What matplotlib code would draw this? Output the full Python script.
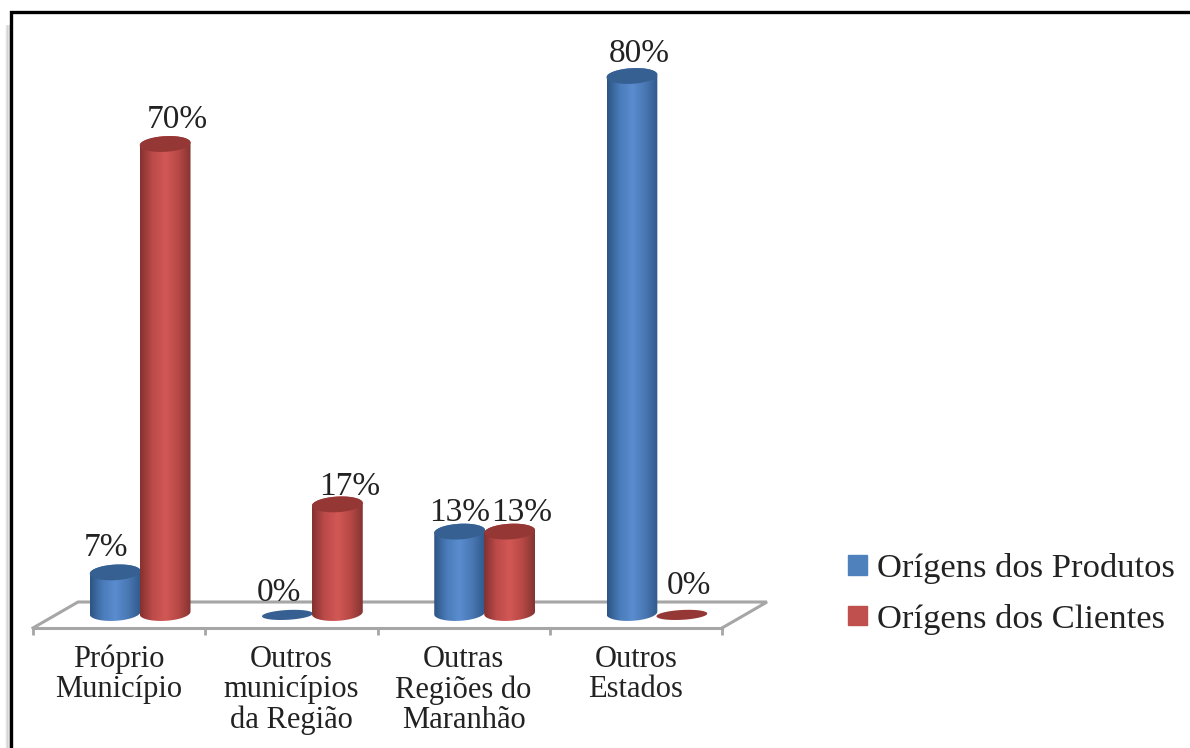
import numpy as np
import matplotlib
matplotlib.use('Agg')
import matplotlib.pyplot as plt
from matplotlib.colors import LinearSegmentedColormap
from matplotlib.lines import Line2D
from matplotlib.patches import Patch, Polygon

categories = ['Próprio\nMunicípio', 'Outros\nmunicípios\nda Região',
              'Outras\nRegiões do\nMaranhão', 'Outros\nEstados']
produtos = [7, 0, 13, 80]
clientes = [70, 17, 13, 0]
series_names = ['Orígens dos Produtos', 'Orígens dos Clientes']

plt.rcParams['font.family'] = ['Liberation Serif', 'DejaVu Serif']

W, H = 1190, 748
px_y = 6.8       # pixels per percent
px_x = 172.25    # pixels per category
bar_w = 0.295
cap_h = 1.15
tilt = 0.2
base = 1.03
flat_base = 0.75

blue = LinearSegmentedColormap.from_list('b', ['#2c5482', '#4a7cba', '#5a8cd0', '#4a78b4', '#2f5a8c'])
red = LinearSegmentedColormap.from_list('r', ['#843130', '#bd4b49', '#d25855', '#b84946', '#843432'])


def ellipse_xy(cx, cy, hw, hh, t):
    return cx + hw * np.cos(t), cy + hh * np.sin(t) + tilt * np.cos(t)


def cylinder(ax, cx, val, cmap, cap_col, z):
    hw = bar_w / 2
    if val == 0:
        x, y = ellipse_xy(cx, flat_base, hw, 0.72, np.linspace(0, 2 * np.pi, 80))
        ax.add_patch(Polygon(np.c_[x, y], fc=cap_col, ec='none', zorder=z, clip_on=False))
        return
    # body: lower arc of the base, upper arc of the top
    xb, yb = ellipse_xy(cx, base, hw, cap_h, np.linspace(np.pi, 2 * np.pi, 50))
    xt, yt = ellipse_xy(cx, val, hw, cap_h, np.linspace(0, np.pi, 50))
    body = Polygon(np.c_[np.r_[xb, xt], np.r_[yb, yt]], fc='none', ec='none',
                   transform=ax.transData, clip_on=False)
    ax.add_patch(body)
    grad = np.linspace(0, 1, 128).reshape(1, -1)
    im = ax.imshow(grad, cmap=cmap, aspect='auto', zorder=z, clip_on=True,
                   extent=(cx - hw, cx + hw, -3, val + 3))
    im.set_clip_path(body)
    x, y = ellipse_xy(cx, val, hw, cap_h, np.linspace(0, 2 * np.pi, 80))
    ax.add_patch(Polygon(np.c_[x, y], fc=cap_col, ec='none', zorder=z + 0.1, clip_on=False))


fig = plt.figure(figsize=(W / 100, H / 100), dpi=100)
ax = fig.add_axes([33 / W, (H - 628) / H, 689 / W, 618 / H])
ax.patch.set_alpha(0)
xlim = (-0.5, 3.5)
ylim = (-8 / px_y, (620 - 10) / px_y)

# floor of the 3d chart
depth_x, depth_y = 45 / px_x, 26 / px_y
fx = [-0.5, -0.5 + depth_x, 3.5 + depth_x, 3.5]
fy = [ylim[0], ylim[0] + depth_y, ylim[0] + depth_y, ylim[0]]
ax.plot(fx, fy, color='#a6a6a6', lw=2.2, clip_on=False, zorder=1, solid_joinstyle='miter')

for i in range(len(categories)):
    cylinder(ax, i - 0.023, produtos[i], blue, '#376092', 3 + i)
    cylinder(ax, i + 0.267, clientes[i], red, '#953735', 3.5 + i)

# data labels, offset (px) from each bar top
off_p = [(-9, 25), (-8, 27), (0, 19), (7, 22)]
off_c = [(12, 24), (12, 18), (12, 19), (7, 34)]
for i in range(len(categories)):
    ax.annotate(f'{produtos[i]}%', (i - 0.023, produtos[i]), xytext=off_p[i],
                textcoords='offset pixels', ha='center', va='center',
                fontsize=24, color='#222222', zorder=20, annotation_clip=False)
    ax.annotate(f'{clientes[i]}%', (i + 0.267, clientes[i]), xytext=off_c[i],
                textcoords='offset pixels', ha='center', va='center',
                fontsize=24, color='#222222', zorder=20, annotation_clip=False)

ax.set_xlim(xlim)
ax.set_ylim(ylim)
ax.set_yticks([])
ax.set_xticks(np.arange(-0.5, 4, 1))
ax.set_xticklabels([])
ax.set_xticks(range(4), categories, minor=True, fontsize=22, color='#222222', linespacing=1.06)
ax.tick_params(axis='x', which='major', length=5, width=2, color='#a6a6a6')
ax.tick_params(axis='x', which='minor', length=0, pad=12)
for s in ['top', 'left', 'right']:
    ax.spines[s].set_visible(False)
ax.spines['bottom'].set_color('#a6a6a6')
ax.spines['bottom'].set_linewidth(2.2)

handles = [Patch(color='#4f81bd'), Patch(color='#c0504d')]
fig.legend(handles, series_names, loc='upper left', bbox_to_anchor=(848 / W, 1 - 553 / H),
           frameon=False, fontsize=24.8, labelcolor='#222222', handlelength=0.55,
           handleheight=0.5, handletextpad=0.28, labelspacing=0.57, borderpad=0, borderaxespad=0)

# black frame with its soft shadow on the left
for k, a in enumerate([0.06, 0.12, 0.2, 0.3]):
    fig.add_artist(Line2D([(6 + k * 1.2) / W] * 2, [0, 1 - 26 / H], color='#555555', alpha=a, lw=1.2))
fig.add_artist(Line2D([11 / W, 11 / W, 1], [0, 1 - 11.5 / H, 1 - 11.5 / H], color='black',
                      lw=2.4, solid_joinstyle='miter'))

fig.savefig('out.png', dpi=100)
